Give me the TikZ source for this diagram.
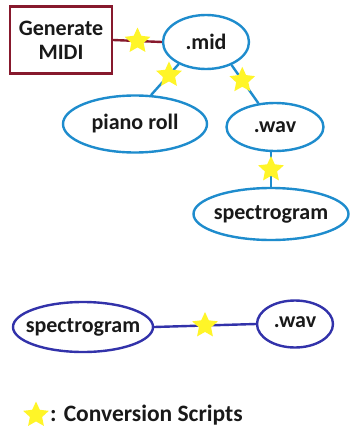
\documentclass[tikz,border=0pt]{standalone}
\usepackage{fontspec}
\setmainfont{Carlito}
\usetikzlibrary{shapes.geometric}
\definecolor{lblue}{RGB}{30,140,205}
\definecolor{dblue}{RGB}{50,50,170}
\definecolor{dred}{RGB}{135,25,45}
\definecolor{starY}{RGB}{255,245,40}
\tikzset{
  lab/.style={font=\fontsize{22}{25}\selectfont\bfseries, text=black!90},
  ell/.style={ellipse, draw=lblue, line width=2.4pt, inner sep=-14pt, lab},
  dell/.style={ellipse, draw=dblue, line width=2.4pt, inner sep=-14pt, lab},
  gbox/.style={rectangle, draw=dred, line width=2.4pt, inner sep=0pt, align=center, lab},
  conv/.style={star, star points=5, star point ratio=2.1, fill=starY, draw=none, minimum size=27pt, inner sep=0pt},
  lk/.style={draw=lblue, line width=2.4pt},
  dlk/.style={draw=dblue, line width=2.4pt},
  rlk/.style={draw=dred, line width=2.4pt},
}
\begin{document}
\begin{tikzpicture}[x=1pt,y=-1pt]
\useasboundingbox (0,0) rectangle (352,434);
\fill[white] (0,0) rectangle (352,434);
\node[gbox, minimum width=102pt, minimum height=67pt] (gen) at (61,40) {Generate\\[-1pt]MIDI};
\node[ell, minimum width=86pt, minimum height=54pt] (mid) at (206,42) {.mid};
\node[ell, minimum width=144pt, minimum height=57pt] (piano) at (135,124) {piano roll};
\node[ell, minimum width=97pt, minimum height=48pt] (wav) at (275,127) {.wav};
\node[ell, minimum width=155pt, minimum height=52pt] (spec) at (271,214) {spectrogram};
\node[dell, minimum width=140pt, minimum height=50pt] (spec2) at (83,327) {spectrogram};
\node[dell, minimum width=76pt, minimum height=47pt] (wav2) at (295,324) {\raisebox{3pt}{.wav}};

\draw[rlk] (gen.east) -- (mid.west) node[conv, pos=0.5] (s1) {};
\draw[lk] (mid.219) -- (piano.61) node[conv, pos=0.35] (s2) {};
\draw[lk] (mid.318) -- (wav.125) node[conv, pos=0.4] (s3) {};
\draw[lk] (wav.south -| spec.north) -- (spec.north) node[conv, pos=0.5] (s4) {};
\draw[dlk] (spec2.east) -- (wav2.west) node[conv, pos=0.5] (s5) {};

\node[conv] (ls) at (36,415) {};
\node[lab, font=\fontsize{23.5}{26}\selectfont\bfseries, anchor=west, inner sep=0pt] (legend) at (50,415) {: Conversion Scripts};
\end{tikzpicture}
\end{document}
